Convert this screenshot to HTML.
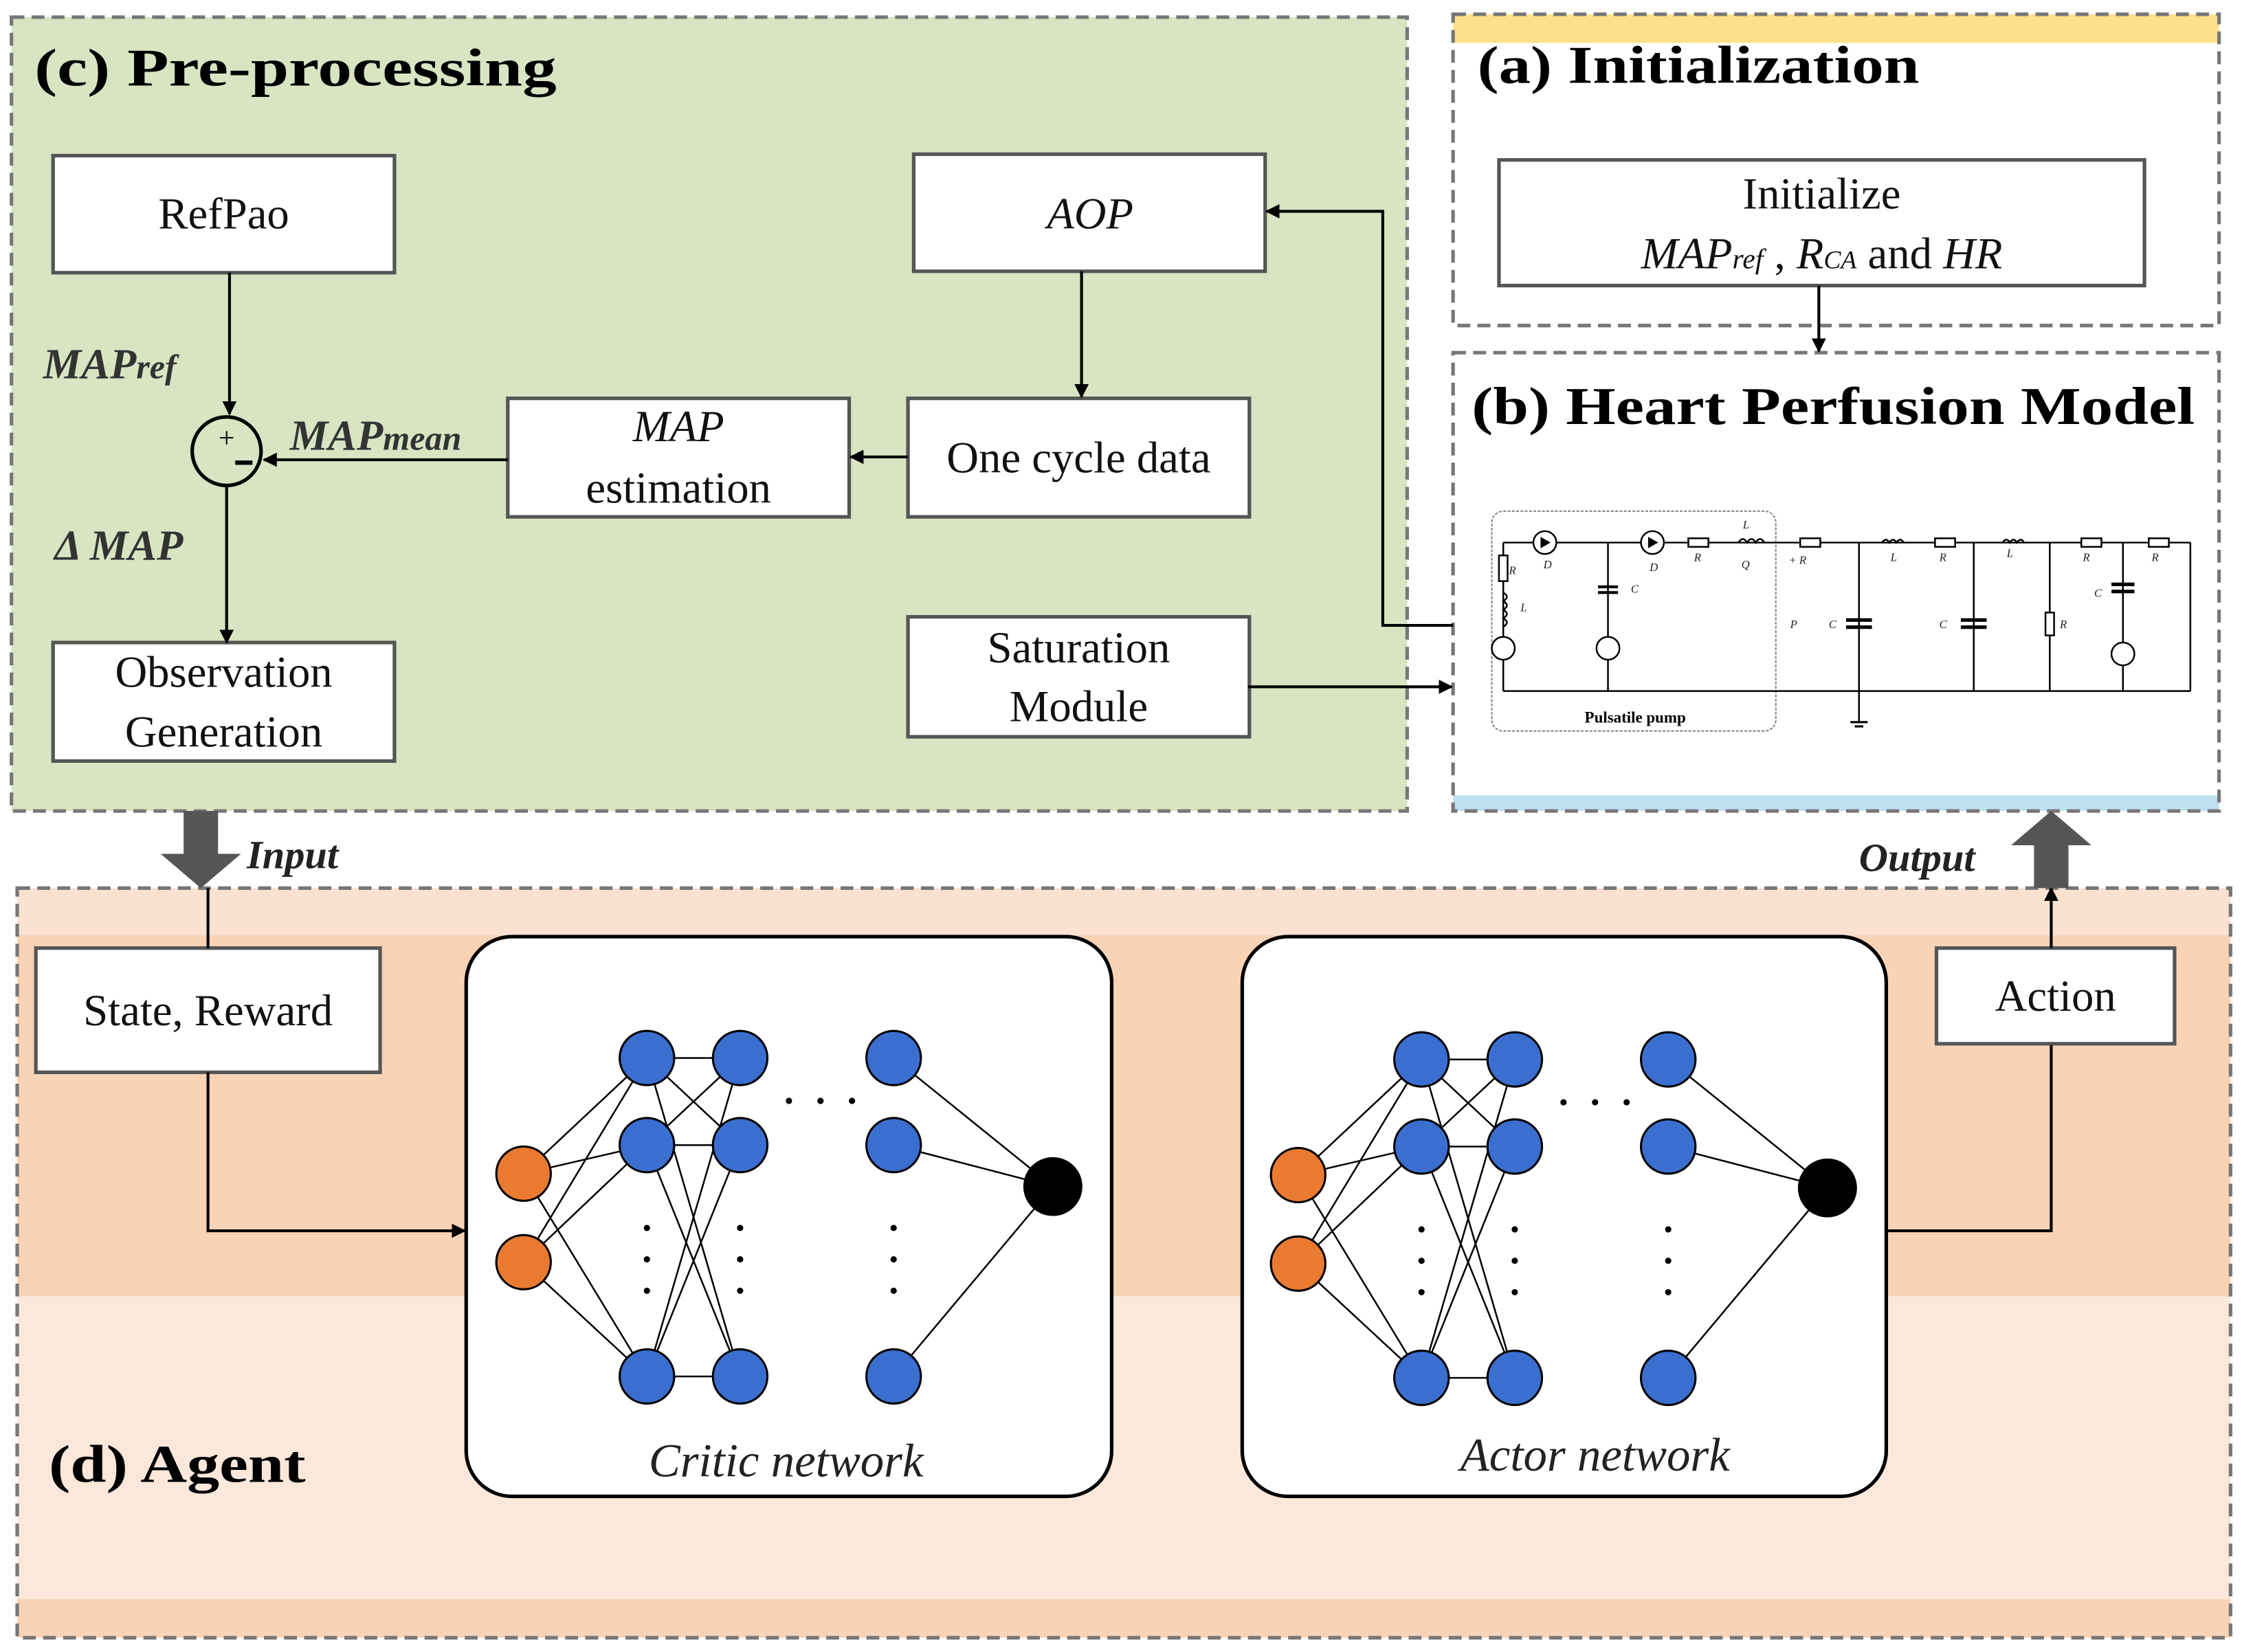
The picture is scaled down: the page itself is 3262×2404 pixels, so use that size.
<!DOCTYPE html>
<html><head><meta charset="utf-8"><style>html,body{margin:0;padding:0;background:#fff}svg{display:block}</style></head><body>
<svg xmlns="http://www.w3.org/2000/svg" xmlns:xlink="http://www.w3.org/1999/xlink" width="3262" height="2404" viewBox="0 0 1563 1157" preserveAspectRatio="none" font-family="Liberation Serif, serif">
<defs>
<marker id="ar" markerWidth="10" markerHeight="10" refX="9" refY="5" orient="auto" markerUnits="userSpaceOnUse"><path d="M0,0 L10,5 L0,10 z" fill="#000"/></marker>
<g id="net" stroke="#000" stroke-width="1.2">
<line x1="365" y1="822" x2="451" y2="741"/><line x1="365" y1="822" x2="451" y2="802"/><line x1="365" y1="822" x2="451" y2="964"/>
<line x1="365" y1="884" x2="451" y2="741"/><line x1="365" y1="884" x2="451" y2="802"/><line x1="365" y1="884" x2="451" y2="964"/>
<line x1="451" y1="741" x2="516" y2="741"/><line x1="451" y1="741" x2="516" y2="802"/><line x1="451" y1="741" x2="516" y2="964"/>
<line x1="451" y1="802" x2="516" y2="741"/><line x1="451" y1="802" x2="516" y2="802"/><line x1="451" y1="802" x2="516" y2="964"/>
<line x1="451" y1="964" x2="516" y2="741"/><line x1="451" y1="964" x2="516" y2="802"/><line x1="451" y1="964" x2="516" y2="964"/>
<line x1="623" y1="741" x2="734" y2="831"/><line x1="623" y1="802" x2="734" y2="831"/><line x1="623" y1="964" x2="734" y2="831"/>
<g fill="#3a6fd0" stroke="#000" stroke-width="1.5">
<circle cx="451" cy="741" r="19"/><circle cx="451" cy="802" r="19"/><circle cx="451" cy="964" r="19"/>
<circle cx="516" cy="741" r="19"/><circle cx="516" cy="802" r="19"/><circle cx="516" cy="964" r="19"/>
<circle cx="623" cy="741" r="19"/><circle cx="623" cy="802" r="19"/><circle cx="623" cy="964" r="19"/>
</g>
<g fill="#ea7a30" stroke="#000" stroke-width="1.5"><circle cx="365" cy="822" r="19"/><circle cx="365" cy="884" r="19"/></g>
<circle cx="734" cy="831" r="20" fill="#000"/>
<g fill="#000" stroke="none">
<circle cx="451" cy="860" r="2.2"/><circle cx="451" cy="882" r="2.2"/><circle cx="451" cy="904" r="2.2"/>
<circle cx="516" cy="860" r="2.2"/><circle cx="516" cy="882" r="2.2"/><circle cx="516" cy="904" r="2.2"/>
<circle cx="623" cy="860" r="2.2"/><circle cx="623" cy="882" r="2.2"/><circle cx="623" cy="904" r="2.2"/>
<circle cx="550" cy="771" r="2.2"/><circle cx="572" cy="771" r="2.2"/><circle cx="594" cy="771" r="2.2"/>
</g>
</g>
</defs>

<rect x="8" y="12" width="973" height="556" fill="#d8e4c2" stroke="#777" stroke-width="2.5" stroke-dasharray="9,5"/>
<text x="24" y="60" font-size="37" font-weight="bold" textLength="364" lengthAdjust="spacingAndGlyphs">(c)  Pre-processing</text>

<rect x="1013" y="10" width="534" height="218" fill="#fff"/>
<rect x="1013" y="10" width="534" height="20" fill="#fde08a"/>
<rect x="1013" y="10" width="534" height="218" fill="none" stroke="#777" stroke-width="2.5" stroke-dasharray="9,5"/>
<text x="1030" y="58" font-size="37" font-weight="bold" textLength="308" lengthAdjust="spacingAndGlyphs">(a) Initialization</text>

<rect x="1013" y="247" width="534" height="321" fill="#fff"/>
<rect x="1013" y="557" width="534" height="11" fill="#bfe0ee"/>
<rect x="1013" y="247" width="534" height="321" fill="none" stroke="#777" stroke-width="2.5" stroke-dasharray="9,5"/>
<text x="1026" y="297" font-size="37" font-weight="bold" textLength="504" lengthAdjust="spacingAndGlyphs">(b) Heart Perfusion Model</text>

<rect x="12" y="622" width="1543" height="33" fill="#fbe2d0"/>
<rect x="12" y="655" width="1543" height="253" fill="#f8d3b6"/>
<rect x="12" y="908" width="1543" height="212" fill="#fce8da"/>
<rect x="12" y="1120" width="1543" height="27" fill="#f8d3b6"/>
<rect x="12" y="622" width="1543" height="525" fill="none" stroke="#777" stroke-width="2.5" stroke-dasharray="9,5"/>
<text x="34" y="1038" font-size="37" font-weight="bold" textLength="179" lengthAdjust="spacingAndGlyphs">(d) Agent</text>

<g fill="#fff" stroke="#555" stroke-width="2.5">
<rect x="37" y="109" width="238" height="82"/>
<rect x="637" y="108" width="245" height="82"/>
<rect x="354" y="279" width="238" height="83"/>
<rect x="633" y="279" width="238" height="83"/>
<rect x="37" y="450" width="238" height="83"/>
<rect x="633" y="432" width="238" height="84"/>
<rect x="1045" y="112" width="450" height="88"/>
<rect x="25" y="664" width="240" height="87"/>
<rect x="1350" y="664" width="166" height="67"/>
</g>
<g font-size="31" text-anchor="middle" fill="#111">
<text x="156" y="160">RefPao</text>
<text x="760" y="160" font-style="italic">AOP</text>
<text x="473" y="309" font-style="italic">MAP</text>
<text x="473" y="352">estimation</text>
<text x="752" y="331">One cycle data</text>
<text x="156" y="481">Observation</text>
<text x="156" y="523">Generation</text>
<text x="752" y="464">Saturation</text>
<text x="752" y="505">Module</text>
<text x="1270" y="146">Initialize</text>
<text x="1270" y="188"><tspan font-style="italic">MAP</tspan><tspan font-style="italic" font-size="20">ref</tspan> , <tspan font-style="italic">R</tspan><tspan font-size="18" font-style="italic">CA</tspan> and <tspan font-style="italic">HR</tspan></text>
<text x="145" y="718">State, Reward</text>
<text x="1433" y="708">Action</text>
</g>

<g font-style="italic" font-weight="bold" fill="#333" font-size="30">
<text x="30" y="265">MAP<tspan font-size="24">ref</tspan></text>
<text x="202" y="315">MAP<tspan font-size="24">mean</tspan></text>
<text x="38" y="392">Δ MAP</text>
</g>
<circle cx="158" cy="316" r="24" fill="none" stroke="#000" stroke-width="2.5"/>
<text x="158" y="313" font-size="20" text-anchor="middle">+</text>
<line x1="164" y1="324" x2="176" y2="324" stroke="#000" stroke-width="3"/>

<g stroke="#000" stroke-width="2" fill="none">
<line x1="160" y1="191" x2="160" y2="290" marker-end="url(#ar)"/>
<line x1="354" y1="322" x2="184" y2="322" marker-end="url(#ar)"/>
<line x1="158" y1="340" x2="158" y2="450" marker-end="url(#ar)"/>
<line x1="754" y1="190" x2="754" y2="278" marker-end="url(#ar)"/>
<line x1="633" y1="320" x2="593" y2="320" marker-end="url(#ar)"/>
<polyline points="1013,438 964,438 964,148 883,148" marker-end="url(#ar)"/>
<line x1="870" y1="481" x2="1012" y2="481" marker-end="url(#ar)"/>
<line x1="1268" y1="200" x2="1268" y2="246" marker-end="url(#ar)"/>
<line x1="145" y1="622" x2="145" y2="664"/>
<polyline points="145,751 145,862 324,862" marker-end="url(#ar)"/>
<polyline points="1315,862 1430,862 1430,732"/>
<line x1="1430" y1="664" x2="1430" y2="622" marker-end="url(#ar)"/>
</g>

<path d="M128,568 L152,568 L152,598 L168,598 L140,622 L112,598 L128,598 z" fill="#555"/>
<path d="M1418,622 L1442,622 L1442,592 L1458,592 L1430,568 L1402,592 L1418,592 z" fill="#555"/>
<text x="172" y="608" font-size="28" font-style="italic" font-weight="bold" fill="#222">Input</text>
<text x="1296" y="610" font-size="28" font-style="italic" font-weight="bold" fill="#222">Output</text>

<rect x="325" y="656" width="450" height="392" rx="32" fill="#fff" stroke="#000" stroke-width="2.5"/>
<rect x="866" y="656" width="449" height="392" rx="32" fill="#fff" stroke="#000" stroke-width="2.5"/>
<use xlink:href="#net"/>
<use xlink:href="#net" transform="translate(540,1)"/>
<text x="548" y="1034" font-size="33" font-style="italic" text-anchor="middle" fill="#222">Critic network</text>
<text x="1112" y="1030" font-size="33" font-style="italic" text-anchor="middle" fill="#222">Actor network</text>

<rect x="1040" y="358" width="198" height="154" rx="8" fill="none" stroke="#888" stroke-width="1" stroke-dasharray="2,1"/>
<g stroke="#000" stroke-width="1.2" fill="#fff">
<line x1="1048" y1="380" x2="1527" y2="380"/>
<line x1="1048" y1="484" x2="1527" y2="484"/>
<line x1="1048" y1="380" x2="1048" y2="484"/>
<line x1="1121" y1="380" x2="1121" y2="484"/>
<line x1="1296" y1="380" x2="1296" y2="505"/>
<line x1="1376" y1="380" x2="1376" y2="484"/>
<line x1="1429" y1="380" x2="1429" y2="484"/>
<line x1="1480" y1="380" x2="1480" y2="484"/>
<line x1="1527" y1="380" x2="1527" y2="484"/>
<rect x="1045" y="389" width="6" height="18"/>
<path d="M1048,415 q5,3 0,6 q5,3 0,6 q5,3 0,6 q5,3 0,6" fill="none"/>
<circle cx="1048" cy="454" r="8"/><circle cx="1121" cy="454" r="8"/><circle cx="1480" cy="458" r="8"/>
<circle cx="1077" cy="380" r="8"/><circle cx="1152" cy="380" r="8"/>
<rect x="1177" y="377" width="14" height="6"/><rect x="1255" y="377" width="14" height="6"/>
<rect x="1349" y="377" width="14" height="6"/><rect x="1451" y="377" width="14" height="6"/><rect x="1498" y="377" width="14" height="6"/>
<rect x="1426" y="429" width="6" height="16"/>
<path d="M1212,380 q3,-5 6,0 q3,-5 6,0 q3,-5 6,0" fill="none"/>
<path d="M1312,380 q3,-4 5,0 q3,-4 5,0 q3,-4 5,0" fill="none"/>
<path d="M1396,380 q3,-4 5,0 q3,-4 5,0 q3,-4 5,0" fill="none"/>
</g>
<g fill="#000">
<path d="M1074,376 L1081,380 L1074,384 z"/><path d="M1149,376 L1156,380 L1149,384 z"/>
<rect x="1114" y="410" width="14" height="2"/><rect x="1114" y="414" width="14" height="2"/>
<rect x="1287" y="433" width="18" height="2.5"/><rect x="1287" y="438" width="18" height="2.5"/>
<rect x="1367" y="433" width="18" height="2.5"/><rect x="1367" y="438" width="18" height="2.5"/>
<rect x="1472" y="408" width="16" height="2.5"/><rect x="1472" y="413" width="16" height="2.5"/>
<rect x="1290" y="505" width="12" height="1.5"/><rect x="1293" y="508" width="6" height="1.5"/>
</g>
<g font-size="8" font-style="italic" fill="#222">
<text x="1052" y="402">R</text><text x="1076" y="398">D</text><text x="1060" y="428">L</text>
<text x="1137" y="415">C</text><text x="1150" y="400">D</text><text x="1181" y="393">R</text>
<text x="1215" y="370">L</text><text x="1214" y="398">Q</text><text x="1247" y="395">+ R</text>
<text x="1248" y="440">P</text><text x="1275" y="440">C</text><text x="1318" y="393">L</text>
<text x="1352" y="393">R</text><text x="1352" y="440">C</text><text x="1399" y="390">L</text>
<text x="1452" y="393">R</text><text x="1500" y="393">R</text><text x="1460" y="418">C</text>
<text x="1436" y="440">R</text>
</g>
<text x="1140" y="506" font-size="11" font-weight="bold" text-anchor="middle">Pulsatile pump</text>
</svg>
</body></html>
